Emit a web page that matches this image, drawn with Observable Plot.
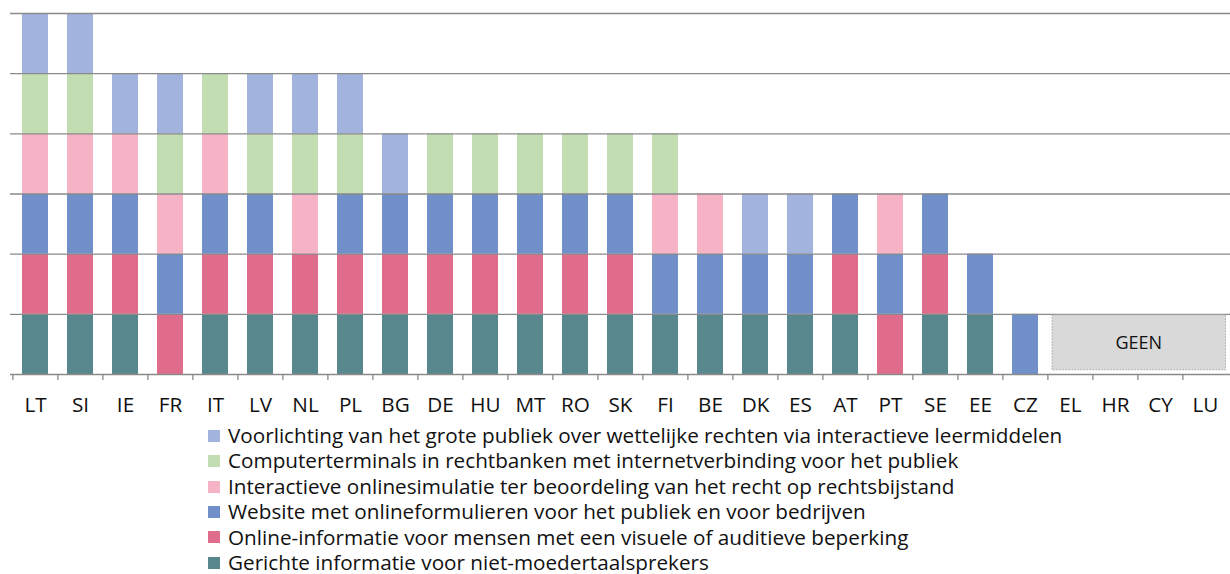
<!DOCTYPE html>
<html>
<head>
<meta charset="utf-8">
<script src="https://cdn.jsdelivr.net/npm/d3@7"></script>
<script src="https://cdn.jsdelivr.net/npm/@observablehq/plot@0.6"></script>
<style>
  html, body { margin: 0; padding: 0; background: #fff; }
  body { width: 1230px; height: 574px; overflow: hidden; font-family: "Open Sans", Lato, sans-serif; }
  #legend { margin-left: 208px; font-size: 20.7px; line-height: 25.4px; color: #111; }
  .row { display: flex; align-items: center; white-space: nowrap; }
  .sw { width: 12px; height: 12px; margin-right: 8px; flex: none; }
</style>
</head>
<body>
<div id="chart"></div>
<div id="legend"></div>
<script>
const countries = ["LT","SI","IE","FR","IT","LV","NL","PL","BG","DE","HU","MT","RO","SK","FI","BE","DK","ES","AT","PT","SE","EE","CZ","EL","HR","CY","LU"];

// stack order: bottom to top
const seriesNames = [
  "Gerichte informatie voor niet-moedertaalsprekers",
  "Online-informatie voor mensen met een visuele of auditieve beperking",
  "Website met onlineformulieren voor het publiek en voor bedrijven",
  "Interactieve onlinesimulatie ter beoordeling van het recht op rechtsbijstand",
  "Computerterminals in rechtbanken met internetverbinding voor het publiek",
  "Voorlichting van het grote publiek over wettelijke rechten via interactieve leermiddelen"
];
const seriesColors = ["#58888d", "#e06c8c", "#718fc8", "#f5b3c5", "#c2ddb2", "#a2b4de"];

const gerichte     = [1,1,1,0,1,1,1,1,1,1,1,1,1,1,1,1,1,1,1,0,1,1,0,0,0,0,0];
const onlineInfo   = [1,1,1,1,1,1,1,1,1,1,1,1,1,1,0,0,0,0,1,1,1,0,0,0,0,0,0];
const website      = [1,1,1,1,1,1,0,1,1,1,1,1,1,1,1,1,1,1,1,1,1,1,1,0,0,0,0];
const simulatie    = [1,1,1,1,1,0,1,0,0,0,0,0,0,0,1,1,0,0,0,1,0,0,0,0,0,0,0];
const terminals    = [1,1,0,1,1,1,1,1,0,1,1,1,1,1,1,0,0,0,0,0,0,0,0,0,0,0,0];
const voorlichting = [1,1,1,1,0,1,1,1,1,0,0,0,0,0,0,0,1,1,0,0,0,0,0,0,0,0,0];
const seriesValues = [gerichte, onlineInfo, website, simulatie, terminals, voorlichting];

const noneCountries = ["EL","HR","CY","LU"];
const noneLabel = "GEEN";
const yTicks = [0,1,2,3,4,5,6];

const data = [];
seriesNames.forEach((s, si) => {
  countries.forEach((c, ci) => {
    const v = seriesValues[si][ci];
    if (v > 0) data.push({country: c, series: s, value: v});
  });
});

const W = 1230, H = 423;
const mL = 10, mR = 0, mT = 13, mB = 49;
const step = (W - mL - mR) / countries.length;

const plot = Plot.plot({
  width: W,
  height: H,
  marginLeft: mL,
  marginRight: mR,
  marginTop: mT,
  marginBottom: mB,
  style: {fontFamily: "'Open Sans', Lato, sans-serif", fontSize: "20.7px", color: "#111", background: "#fff"},
  x: {domain: countries, paddingInner: 0.42, paddingOuter: 0.21, label: null},
  y: {domain: [0, 6], axis: null, label: null},
  color: {domain: seriesNames, range: seriesColors},
  marks: [
    Plot.barY(data, Plot.stackY({x: "country", y: "value", z: "series", fill: "series", order: null})),
    Plot.ruleY(yTicks, {stroke: "#8a8a8a", strokeWidth: 1.3}),
    Plot.ruleX(countries, {x: d => d, dx: -step / 2, y1: 0, y2: -0.1, stroke: "#8a8a8a", strokeWidth: 1.3}),
    Plot.axisX({tickSize: 0, tickPadding: 23, fontSize: 20.7, fill: "#111"})
  ]
});
document.getElementById("chart").appendChild(plot);

// "GEEN" box spanning the countries without data
const xs = plot.scale("x"), ys = plot.scale("y");
const bw = xs.bandwidth, gap = xs.step - xs.bandwidth;
const bx1 = xs.apply(noneCountries[0]) - gap / 2 + 4.5;
const bx2 = xs.apply(noneCountries[noneCountries.length - 1]) + bw + gap / 2 - 2;
const by1 = ys.apply(1) + 1;
const by2 = ys.apply(0.07);
const svg = d3.select(plot);
const g = svg.append("g");
g.append("rect")
  .attr("x", bx1).attr("y", by1).attr("width", bx2 - bx1).attr("height", by2 - by1)
  .attr("fill", "#d9d9d9").attr("stroke", "#a6a6a6").attr("stroke-width", 1).attr("stroke-dasharray", "1.5,1.5");
g.append("text")
  .attr("x", (bx1 + bx2) / 2).attr("y", (by1 + by2) / 2).attr("dy", "0.35em")
  .attr("text-anchor", "middle").attr("font-size", 18).attr("fill", "#111")
  .text(noneLabel);

// legend, top to bottom = top of stack first
const legend = document.getElementById("legend");
for (let i = seriesNames.length - 1; i >= 0; i--) {
  const row = document.createElement("div");
  row.className = "row";
  const sw = document.createElement("span");
  sw.className = "sw";
  sw.style.background = seriesColors[i];
  const t = document.createElement("span");
  t.textContent = seriesNames[i];
  row.appendChild(sw); row.appendChild(t);
  legend.appendChild(row);
}
</script>
</body>
</html>
